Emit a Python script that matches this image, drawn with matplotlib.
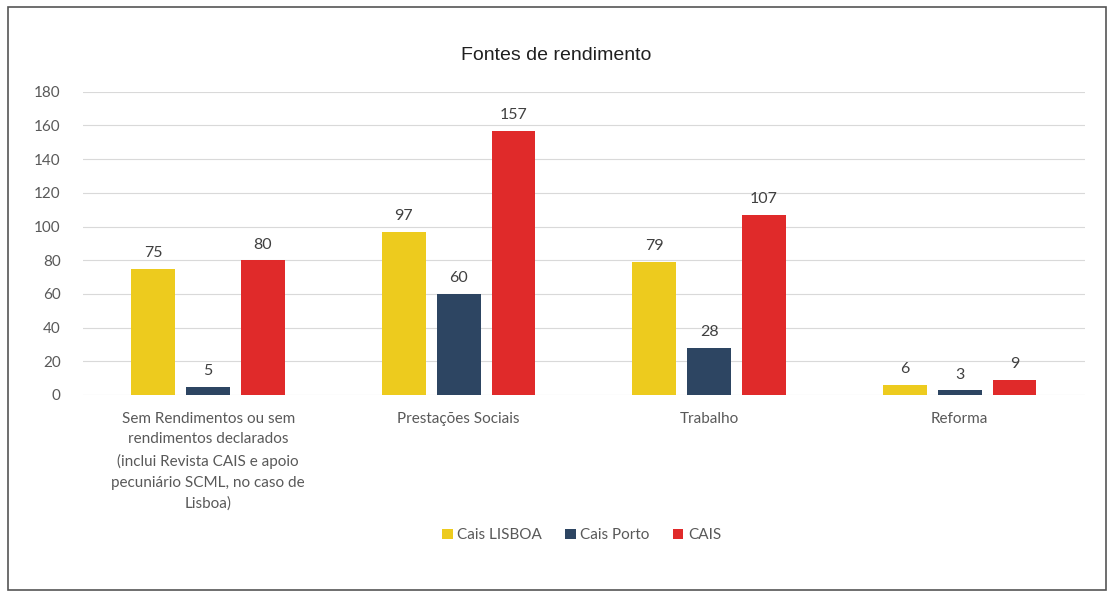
import numpy as np
import matplotlib.pyplot as plt
from matplotlib.patches import Rectangle

categories = [
    "Sem Rendimentos ou sem\nrendimentos declarados\n(inclui Revista CAIS e apoio\npecuniário SCML, no caso de\nLisboa)",
    "Prestações Sociais",
    "Trabalho",
    "Reforma",
]
series_names = ["Cais LISBOA", "Cais Porto", "CAIS"]
lisboa = [75, 97, 79, 6]
porto = [5, 60, 28, 3]
cais = [80, 157, 107, 9]
colors = ["#EDCB1E", "#2D4562", "#E02A2A"]

plt.rcParams['font.family'] = ['Lato', 'DejaVu Sans']

fig = plt.figure(figsize=(11.12, 5.98), dpi=100)
ax = fig.add_axes([0.0746, 0.3395, 0.901, 0.507])

x = np.arange(len(categories))
w = 0.175
off = 0.219
for i, (vals, name, c) in enumerate(zip([lisboa, porto, cais], series_names, colors)):
    bars = ax.bar(x + (i - 1) * off, vals, w, color=c, label=name, zorder=3)
    for b, v in zip(bars, vals):
        ax.text(b.get_x() + b.get_width() / 2, v + 5, str(v), ha='center', va='bottom',
                fontsize=11.5, color='#404040')

ax.set_ylim(0, 180)
ax.set_xlim(-0.5, len(categories) - 0.5)
ax.set_yticks(range(0, 181, 20))
ax.set_xticks(x)
ax.set_xticklabels(categories, fontsize=11, color='#595959', linespacing=1.62)
ax.tick_params(axis='y', labelsize=11, colors='#595959', length=0, pad=16)
ax.tick_params(axis='x', length=0, pad=12)
ax.grid(axis='y', color='#D9D9D9', linewidth=0.8, zorder=0)
for s in ax.spines.values():
    s.set_visible(False)

fig.text(0.5, 0.908, "Fontes de rendimento", ha='center', va='center', fontsize=14,
         family='Liberation Sans', color='#202020')

fig.legend(loc='center', bbox_to_anchor=(0.523, 0.105), ncol=3, frameon=False,
           fontsize=11, handlelength=0.7, handleheight=0.7, handletextpad=0.3,
           columnspacing=1.5, labelcolor='#595959')

fig.patches.append(Rectangle((0.007, 0.013), 0.988, 0.975, transform=fig.transFigure,
                             fill=False, edgecolor='#555555', linewidth=1.2))

fig.savefig("out.png", dpi=100, facecolor='white')
